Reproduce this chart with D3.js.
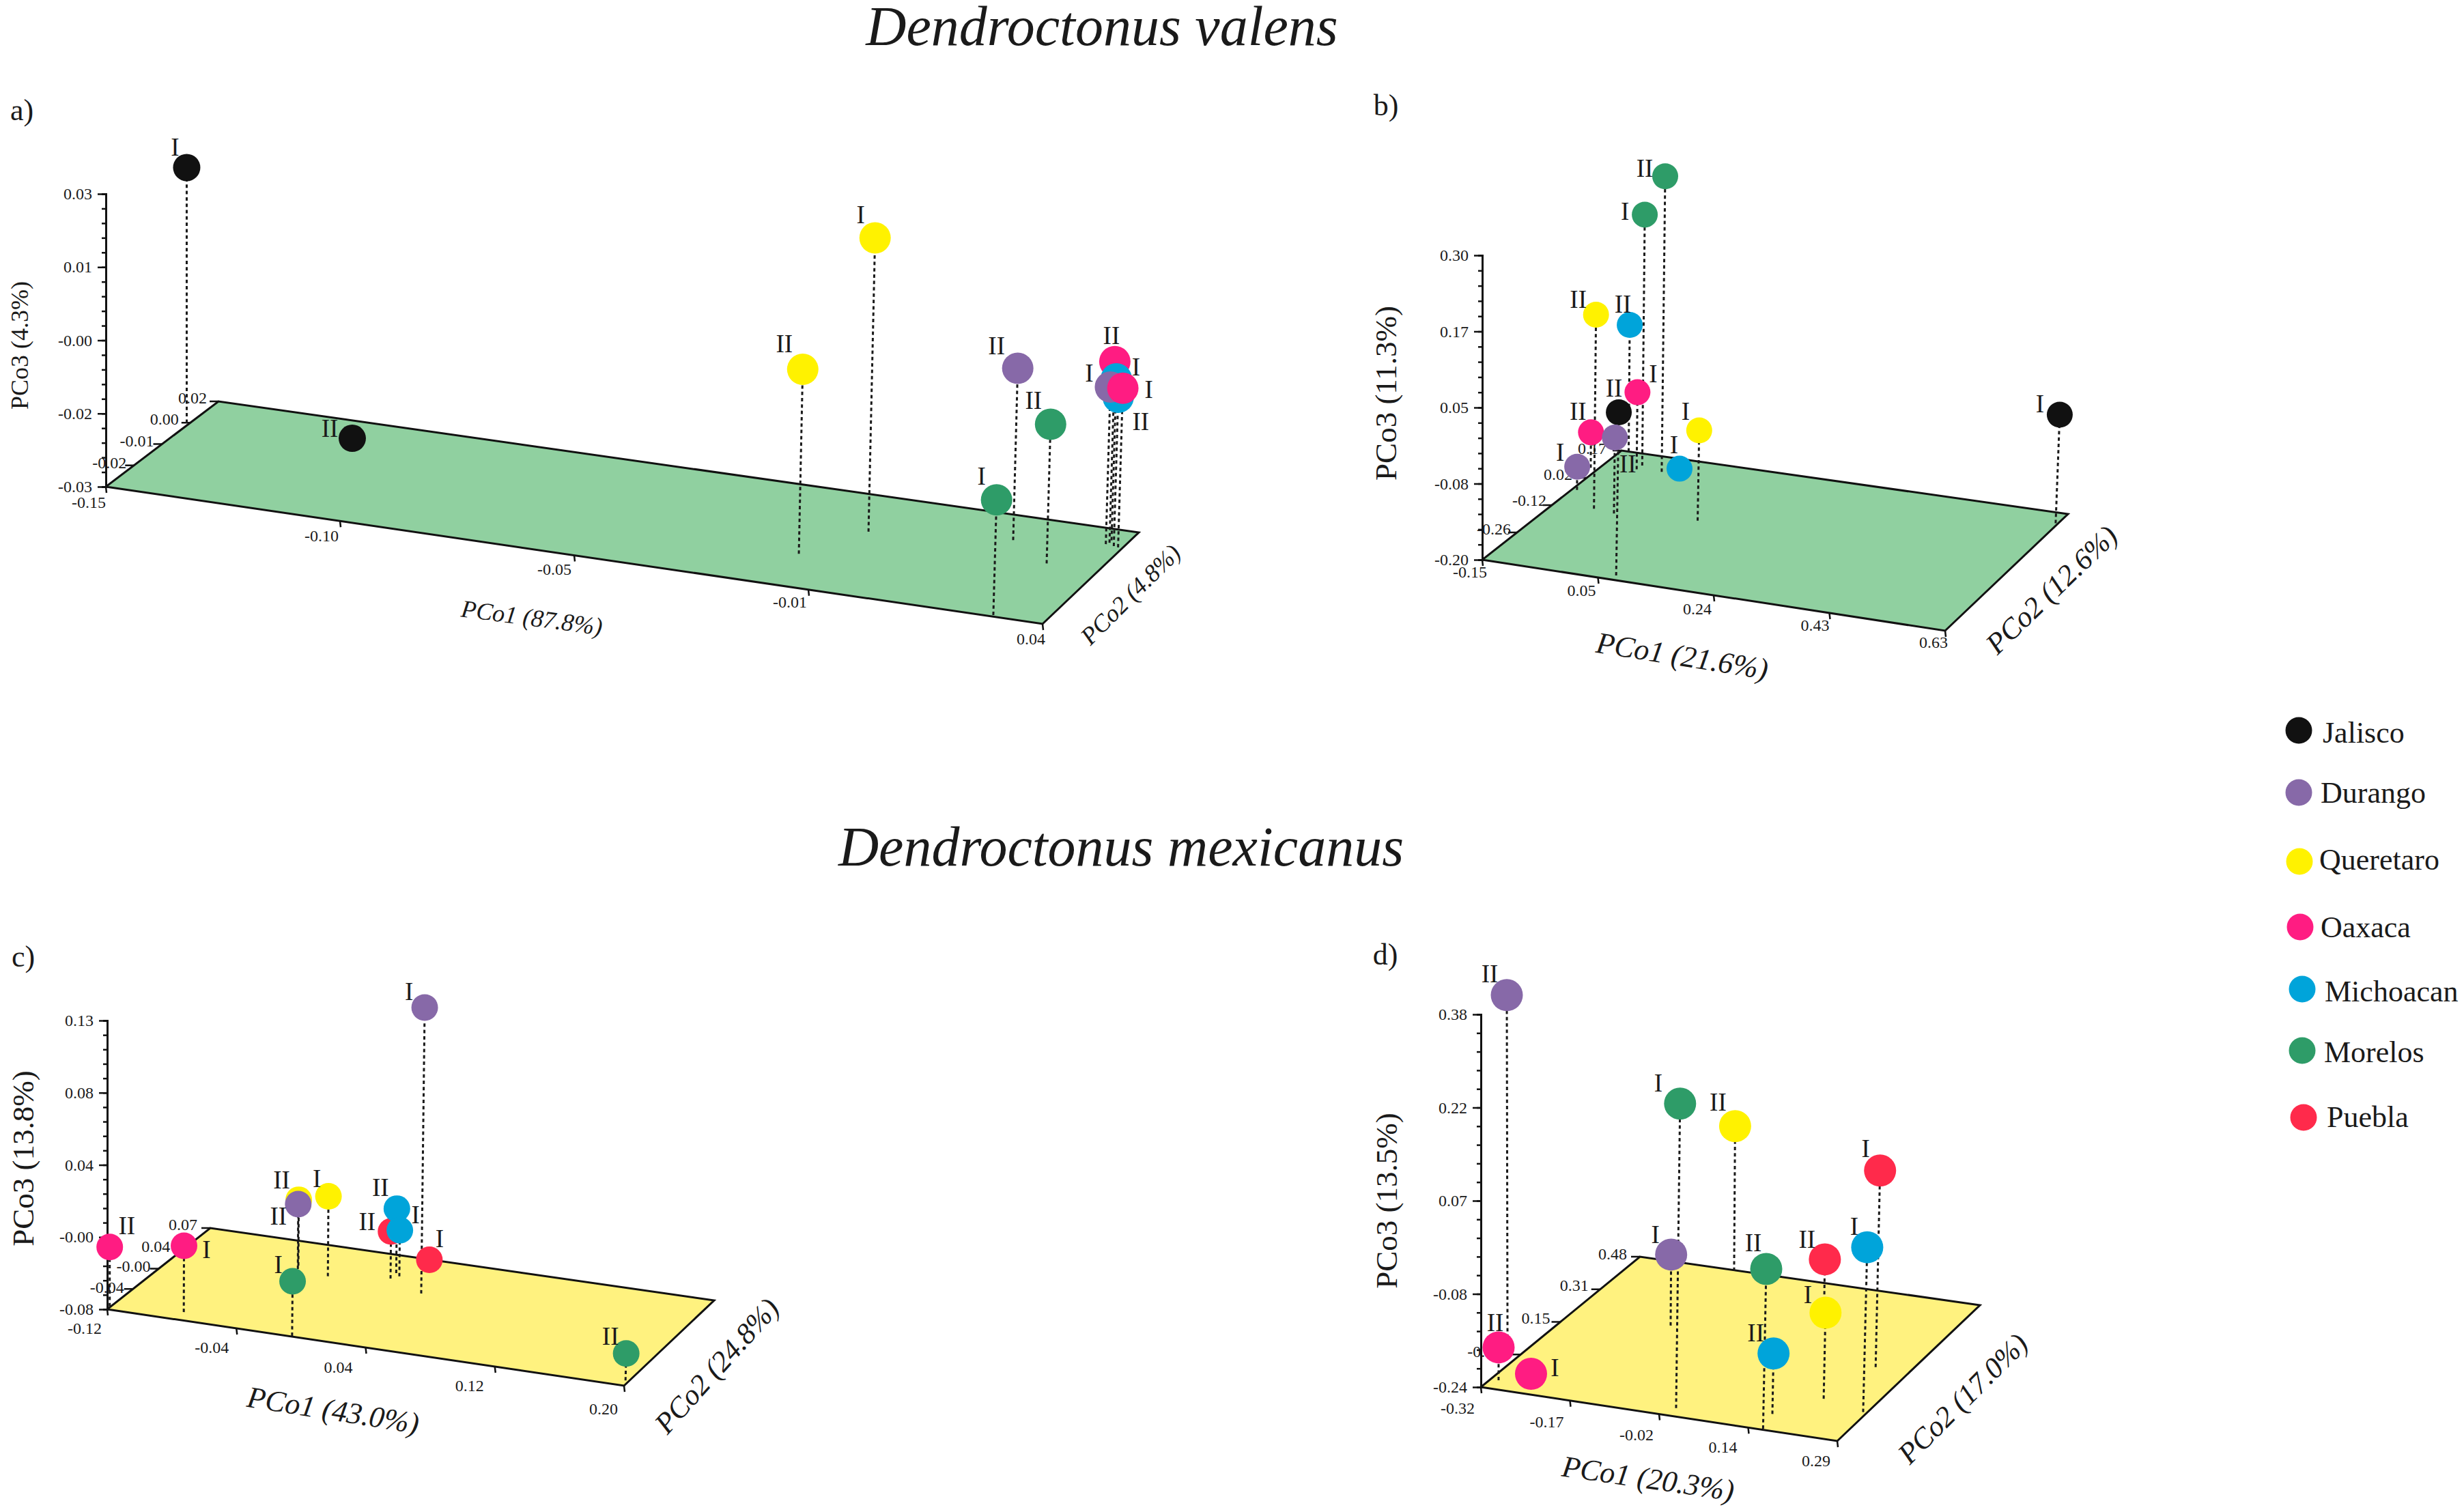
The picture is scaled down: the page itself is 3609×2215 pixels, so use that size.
<!DOCTYPE html>
<html>
<head>
<meta charset="utf-8">
<title>Dendroctonus PCoA</title>
<script src="https://cdn.jsdelivr.net/npm/d3@7"></script>
<style>
  html, body { margin: 0; padding: 0; background: #fff; }
  text { font-family: "Liberation Serif", serif; fill: #1a1a1a; }
</style>
</head>
<body>
<div id="chart"></div>
<script>
// legend
const siteNames = ["Jalisco", "Durango", "Queretaro", "Oaxaca", "Michoacan", "Morelos", "Puebla"];
const siteColors = ["#111111", "#8769a8", "#fff200", "#ff1c82", "#00a4da", "#2e9c68", "#ff2a4b"];

// a) D. valens
const aSites = ["Jalisco", "Jalisco", "Queretaro", "Queretaro", "Durango", "Morelos", "Morelos", "Oaxaca", "Michoacan", "Michoacan", "Durango", "Oaxaca"];
const aGroups = ["I", "II", "I", "II", "II", "II", "I", "II", "II", "I", "I", "I"];
const aPco1 = [-0.1506, -0.1169, -0.0083, -0.0162, 0.0190, 0.0294, 0.0297, 0.0367, 0.0381, 0.0366, 0.0363, 0.0391];
const aPco2 = [0.0072, 0.0079, 0.0019, -0.0135, 0.0078, -0.0010, -0.0292, 0.0131, 0.0118, 0.0144, 0.0122, 0.0115];
const aPco3 = [0.0223, -0.0286, 0.0302, 0.0078, 0.0052, -0.0015, -0.0064, 0.0071, 0.0005, 0.0031, 0.0022, 0.0026];
const aTicks1 = ["-0.15", "-0.10", "-0.05", "-0.01", "0.04"];
const aTicks2 = ["-0.02", "-0.01", "0.00", "0.02"];
const aTicks3 = ["-0.03", "-0.02", "-0.00", "0.01", "0.03"];

// b) D. valens
const bSites = ["Jalisco", "Morelos", "Morelos", "Queretaro", "Michoacan", "Jalisco", "Oaxaca", "Oaxaca", "Durango", "Durango", "Queretaro", "Michoacan"];
const bGroups = ["I", "II", "I", "II", "II", "II", "I", "II", "II", "I", "I", "I"];
const bPco1 = [0.626, -0.051, -0.0914, -0.0825, -0.1375, 0.0673, -0.0924, -0.1628, -0.0449, -0.1417, 0.0895, -0.0143];
const bPco2 = [0.1233, 0.1016, 0.117, -0.1036, 0.17, -0.379, 0.0965, 0.0742, -0.1116, -0.0318, -0.0888, 0.0874];
const bPco3 = [-0.0217, 0.2854, 0.212, 0.1188, 0.008, 0.0679, -0.0733, -0.1417, -0.0752, -0.1619, -0.0517, -0.1854];
const bTicks1 = ["-0.15", "0.05", "0.24", "0.43", "0.63"];
const bTicks2 = ["-0.26", "-0.12", "0.02", "0.17"];
const bTicks3 = ["-0.20", "-0.08", "0.05", "0.17", "0.30"];

// c) D. mexicanus
const cSites = ["Oaxaca", "Oaxaca", "Durango", "Morelos", "Queretaro", "Durango", "Queretaro", "Puebla", "Michoacan", "Michoacan", "Puebla", "Morelos"];
const cGroups = ["II", "I", "I", "I", "II", "II", "I", "II", "II", "I", "I", "II"];
const cPco1 = [-0.1206, -0.0781, 0.0362, -0.006, -0.0476, -0.0457, -0.0249, 0.0103, 0.0099, 0.0136, 0.0254, 0.1978];
const cPco2 = [-0.0749, -0.0668, 0.0157, -0.0788, 0.0312, 0.0259, 0.0214, 0.0318, 0.0415, 0.0373, 0.0546, -0.0716];
const cPco3 = [-0.0368, -0.0318, 0.128, -0.0403, -0.0321, -0.0328, -0.0219, -0.0457, -0.0331, -0.0465, -0.073, -0.0604];
const cTicks1 = ["-0.12", "-0.04", "0.04", "0.12", "0.20"];
const cTicks2 = ["-0.04", "-0.00", "0.04", "0.07"];
const cTicks3 = ["-0.08", "-0.00", "0.04", "0.08", "0.13"];

// d) D. mexicanus
const dSites = ["Durango", "Morelos", "Queretaro", "Puebla", "Durango", "Morelos", "Puebla", "Michoacan", "Queretaro", "Michoacan", "Oaxaca", "Oaxaca"];
const dGroups = ["II", "I", "II", "I", "I", "II", "II", "I", "I", "II", "II", "I"];
const dPco1 = [-0.3694, 0.0, -0.1498, 0.2305, -0.1488, 0.1613, 0.0522, 0.2833, 0.2032, 0.1514, -0.3065, -0.2498];
const dPco2 = [0.0484, -0.1437, 0.477, 0.1546, 0.2035, -0.1754, 0.377, -0.0423, -0.011, -0.1074, -0.1391, -0.1417];
const dPco3 = [0.33, 0.2664, 0.0007, 0.087, -0.1219, 0.0257, -0.1605, 0.0342, -0.0969, -0.1394, -0.1855, -0.2202];
const dTicks1 = ["-0.32", "-0.17", "-0.02", "0.14", "0.29"];
const dTicks2 = ["-0.02", "0.15", "0.31", "0.48"];
const dTicks3 = ["-0.24", "-0.08", "0.07", "0.22", "0.38"];

// layout, none of this is data
const panels = [
  {
    letter: "a)", letterAt: [32, 163], floor: "#90d0a0", r: 23, jaliscoR: 20,
    O: [155, 713], X: [1527, 914], A: [320, 588], B: [1668, 780], zTop: 284,
    lean0: 0, lean1: 0.03,
    domain1: [-0.15, 0.04], domain2: [-0.03, 0.02], domain3: [-0.03, 0.03],
    sites: aSites, groups: aGroups, pco1: aPco1, pco2: aPco2, pco3: aPco3,
    ticks1: aTicks1, ticks2: aTicks2, ticks3: aTicks3,
    off1: [[-25, 23], [-27, 21], [-29, 20], [-27, 18], [-17, 22]],
    off2: [[-36, -4], [-37, -5], [-38, -6], [-38, -5]],
    label1: { text: "PCo1 (87.8%)", at: [779, 905], rot: 7.5, size: 36 },
    label2: { text: "PCo2 (4.8%)", at: [1656, 871], rot: -45, size: 36 },
    label3: { text: "PCo3 (4.3%)", at: [29, 506], size: 36 },
    labelDx: [-17, -33, -21, -27, -31, -25, -22, -5, 33, 29, -31, 38],
    labelDy: [-30, -14, -34, -37, -33, -35, -34, -38, 36, -17, -20, 2]
  },
  {
    letter: "b)", letterAt: [2030, 156], floor: "#90d0a0", r: 19,
    O: [2171, 820], X: [2849, 924], A: [2375, 660], B: [3029, 753], zTop: 374,
    lean0: 0.008, lean1: 0.03,
    domain1: [-0.15, 0.63], domain2: [-0.40, 0.17], domain3: [-0.20, 0.30],
    sites: bSites, groups: bGroups, pco1: bPco1, pco2: bPco2, pco3: bPco3,
    ticks1: bTicks1, ticks2: bTicks2, ticks3: bTicks3,
    off1: [[-18, 18], [-24, 19], [-24, 20], [-21, 18], [-17, 16.5]],
    off2: [[-34, -5], [-33, -7], [-42, -5], [-43, -3]],
    label1: { text: "PCo1 (21.6%)", at: [2464, 961], rot: 9, size: 44 },
    label2: { text: "PCo2 (12.6%)", at: [3005, 864], rot: -44, size: 43 },
    label3: { text: "PCo3 (11.3%)", at: [2030, 576], size: 45 },
    labelDx: [-29, -30, -29, -26, -10, -7, 23, -19, 19, -25, -20, -8],
    labelDy: [-16, -11, -5, -22, -30, -35, -27, -31, 39, -21, -28, -35]
  },
  {
    letter: "c)", letterAt: [34, 1403], floor: "#fff27f", r: 19.5,
    O: [157, 1918], X: [914, 2030], A: [308, 1799], B: [1046, 1905], zTop: 1495,
    lean0: 0, lean1: 0.025,
    domain1: [-0.12, 0.20], domain2: [-0.08, 0.07], domain3: [-0.08, 0.13],
    sites: cSites, groups: cGroups, pco1: cPco1, pco2: cPco2, pco3: cPco3,
    ticks1: cTicks1, ticks2: cTicks2, ticks3: cTicks3,
    off1: [[-33, 28], [-36, 28], [-40, 29], [-37, 28], [-30, 34]],
    off2: [[-38, -3], [-37, -4], [-42, -3], [-40, -5]],
    label1: { text: "PCo1 (43.0%)", at: [488, 2066], rot: 9, size: 44 },
    label2: { text: "PCo2 (24.8%)", at: [1050, 2001], rot: -48, size: 43 },
    label3: { text: "PCo3 (13.8%)", at: [34, 1697], size: 45 },
    labelDx: [25, 33, -23, -21, -25, -29, -17, -35, -24, 23, 15, -23],
    labelDy: [-31, 6, -23, -24, -29, 18, -26, -14, -31, -22, -31, -25]
  },
  {
    letter: "d)", letterAt: [2029, 1400], floor: "#fff27f", r: 23.5,
    O: [2169, 2032], X: [2691, 2111], A: [2402, 1841], B: [2900, 1912], zTop: 1486,
    lean0: 0, lean1: 0.025,
    domain1: [-0.32, 0.29], domain2: [-0.18, 0.48], domain3: [-0.24, 0.38],
    sites: dSites, groups: dGroups, pco1: dPco1, pco2: dPco2, pco3: dPco3,
    ticks1: dTicks1, ticks2: dTicks2, ticks3: dTicks3,
    off1: [[-34, 31], [-34, 31], [-33, 30], [-37, 28], [-31, 29]],
    off2: [[-53, -5], [-36, -6], [-38, -6], [-40, -4]],
    label1: { text: "PCo1 (20.3%)", at: [2414, 2166], rot: 8.2, size: 44 },
    label2: { text: "PCo2 (17.0%)", at: [2875, 2049], rot: -45, size: 43 },
    label3: { text: "PCo3 (13.5%)", at: [2031, 1759], size: 45 },
    labelDx: [-25, -32, -25, -21, -23, -19, -26, -19, -26, -26, -5, 35],
    labelDy: [-31, -30, -35, -32, -29, -38, -29, -30, -26, -30, -36, -9]
  }
];

const legendX = [3367, 3367, 3368, 3369, 3372, 3372, 3374];
const legendY = [1070, 1161, 1262, 1358, 1449, 1539, 1637];
const legendTextX = [3402, 3399, 3397, 3399, 3405, 3404, 3408];
const legendBase = [1088, 1176, 1274, 1373, 1467, 1556, 1651];

const svgWidth = 3609, svgHeight = 2215;
const color = d3.scaleOrdinal().domain(siteNames).range(siteColors);

const svg = d3.select("#chart").append("svg")
  .attr("width", svgWidth)
  .attr("height", svgHeight)
  .style("display", "block");

svg.append("text").attr("x", 1614).attr("y", 66)
  .attr("text-anchor", "middle").style("font-style", "italic").style("font-size", "82px")
  .text("Dendroctonus valens");
svg.append("text").attr("x", 1642).attr("y", 1268)
  .attr("text-anchor", "middle").style("font-style", "italic").style("font-size", "82px")
  .text("Dendroctonus mexicanus");

panels.forEach(drawPanel);

function drawPanel(p) {
  const g = svg.append("g");
  const u = d3.scaleLinear().domain(p.domain1).range([0, 1]);
  const v = d3.scaleLinear().domain(p.domain2).range([0, 1]);
  const z = d3.scaleLinear().domain(p.domain3).range([p.O[1], p.zTop]);
  // floor is a slightly off-square quad, so go through its four corners
  const floorAt = (a, b) => [
    (1 - b) * ((1 - a) * p.O[0] + a * p.X[0]) + b * ((1 - a) * p.A[0] + a * p.B[0]),
    (1 - b) * ((1 - a) * p.O[1] + a * p.X[1]) + b * ((1 - a) * p.A[1] + a * p.B[1])
  ];

  g.append("text").attr("x", p.letterAt[0]).attr("y", p.letterAt[1]).attr("dy", "0.3em")
    .attr("text-anchor", "middle").style("font-size", "44px").text(p.letter);

  g.append("path")
    .attr("d", d3.line()([p.O, p.X, p.B, p.A]) + "Z")
    .attr("fill", p.floor)
    .attr("stroke", "#111")
    .attr("stroke-width", 3)
    .attr("stroke-linejoin", "miter");

  // vertical axis, minor then major
  const zMinor = d3.range(21).map(i => p.domain3[0] + i * (p.domain3[1] - p.domain3[0]) / 20);
  const zMajor = d3.range(5).map(i => p.domain3[0] + i * (p.domain3[1] - p.domain3[0]) / 4);
  const zAxis = g.append("g").attr("transform", `translate(${p.O[0]},0)`);
  zAxis.append("g")
    .call(d3.axisLeft(z).tickValues(zMinor).tickSize(6).tickFormat(""))
    .call(s => s.selectAll("line").attr("stroke", "#111").attr("stroke-width", 2.5))
    .call(s => s.select(".domain").attr("stroke", "#111").attr("stroke-width", 3));
  zAxis.append("g")
    .call(d3.axisLeft(z).tickValues(zMajor).tickSize(12).tickPadding(8).tickFormat((d, i) => p.ticks3[i]))
    .call(s => s.select(".domain").remove())
    .call(s => s.selectAll("line").attr("stroke", "#111").attr("stroke-width", 2.5))
    .call(s => s.selectAll("text").style("font-family", "Liberation Serif").style("font-size", "24px").attr("fill", "#222"));

  // PCo1 along the front edge
  p.ticks1.forEach((t, i) => {
    const pt = floorAt(i / 4, 0);
    g.append("line").attr("x1", pt[0]).attr("y1", pt[1]).attr("x2", pt[0] + 1).attr("y2", pt[1] + 9)
      .attr("stroke", "#111").attr("stroke-width", 2.5);
    g.append("text").attr("x", pt[0] + p.off1[i][0]).attr("y", pt[1] + p.off1[i][1]).attr("dy", "0.35em")
      .attr("text-anchor", "middle").style("font-size", "24px").text(t);
  });

  // PCo2 along the left edge
  p.ticks2.forEach((t, i) => {
    const pt = floorAt(0, (i + 1) / 4);
    g.append("line").attr("x1", pt[0]).attr("y1", pt[1]).attr("x2", pt[0] - 13).attr("y2", pt[1])
      .attr("stroke", "#111").attr("stroke-width", 2.5);
    g.append("text").attr("x", pt[0] + p.off2[i][0]).attr("y", pt[1] + p.off2[i][1]).attr("dy", "0.35em")
      .attr("text-anchor", "middle").style("font-size", "24px").text(t);
  });

  axisTitle(g, p.label1, "italic");
  axisTitle(g, p.label2, "italic");
  axisTitle(g, { text: p.label3.text, at: p.label3.at, rot: -90, size: p.label3.size }, "normal");

  const points = p.sites.map((site, i) => {
    const a = u(p.pco1[i]), b = v(p.pco2[i]);
    const base = floorAt(a, b);
    const h = p.O[1] - z(p.pco3[i]);
    const lean = (p.lean0 + p.lean1 * a) * h;
    return { site, group: p.groups[i], base, top: [base[0] + lean, base[1] - h], dx: p.labelDx[i], dy: p.labelDy[i] };
  });

  g.selectAll(".stem").data(points).enter().append("line")
    .attr("class", "stem")
    .attr("x1", d => d.base[0]).attr("y1", d => d.base[1])
    .attr("x2", d => d.top[0]).attr("y2", d => d.top[1])
    .attr("stroke", "#1a1a1a")
    .attr("stroke-width", 3)
    .attr("stroke-dasharray", "5 4.3");

  g.selectAll(".dot").data(points).enter().append("circle")
    .attr("class", "dot")
    .attr("cx", d => d.top[0]).attr("cy", d => d.top[1])
    .attr("r", d => d.site === "Jalisco" && p.jaliscoR ? p.jaliscoR : p.r)
    .attr("fill", d => color(d.site));

  g.selectAll(".group").data(points).enter().append("text")
    .attr("class", "group")
    .attr("x", d => d.top[0] + d.dx).attr("y", d => d.top[1] + d.dy).attr("dy", "0.33em")
    .attr("text-anchor", "middle")
    .style("font-size", "37px")
    .text(d => d.group);
}

function axisTitle(g, t, fontStyle) {
  g.append("text")
    .attr("transform", `translate(${t.at[0]},${t.at[1]}) rotate(${t.rot})`)
    .attr("dy", "0.33em")
    .attr("text-anchor", "middle")
    .style("font-style", fontStyle)
    .style("font-size", t.size + "px")
    .text(t.text);
}

// legend
const legend = svg.append("g");
siteNames.forEach((name, i) => {
  legend.append("circle").attr("cx", legendX[i]).attr("cy", legendY[i]).attr("r", 19.5).attr("fill", color(name));
  legend.append("text").attr("x", legendTextX[i]).attr("y", legendBase[i]).style("font-size", "44px").text(name);
});
</script>
</body>
</html>
